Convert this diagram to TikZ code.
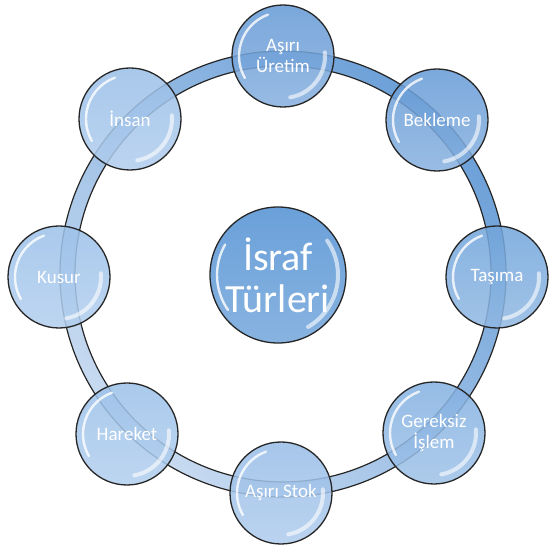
\documentclass[tikz,border=0pt]{standalone}
\usepackage{fontspec}
\setmainfont{Carlito}
\begin{document}
\begin{tikzpicture}[x=1pt,y=1pt,
  bub/.style={circle, draw=black!85, line width=1.3pt, minimum size=102pt, inner sep=0pt,
    fill opacity=0.86, draw opacity=1, text opacity=1, text=white, align=center,
    font=\fontsize{19}{21}\selectfont},
  glossa/.style={white, line width=2.4pt, opacity=0.8, line cap=round},
  glossb/.style={white, line width=4pt, opacity=0.6, line cap=round}
]
\useasboundingbox (0,0) rectangle (553,556);
\coordinate (rc) at (283,282);
% ring band
\shade[even odd rule, top color={rgb,255:red,108;green,160;blue,216}, bottom color={rgb,255:red,200;green,219;blue,241}, shading angle=-45]
  (rc) circle[radius=223pt] (rc) circle[radius=208pt];
\draw[black!85, line width=1.2pt] (rc) circle[radius=223pt];
\draw[black!85, line width=1.2pt] (rc) circle[radius=208pt];

\newcommand{\bubble}[4]{%
  \node[bub, top color=#3, bottom color=#3!78!white] (#1) at #2 {#4};
  \draw[glossa] ([shift={(110:44pt)}]#1.center) arc[start angle=110, end angle=210, radius=44pt];
  \draw[glossb] ([shift={(-80:42pt)}]#1.center) arc[start angle=-80, end angle=5, radius=42pt];
}
\definecolor{cA}{RGB}{100,153,213}
\definecolor{cB}{RGB}{102,155,214}
\definecolor{cC}{RGB}{114,165,219}
\definecolor{cD}{RGB}{132,177,225}
\definecolor{cE}{RGB}{152,189,231}
\definecolor{cF}{RGB}{156,193,233}
\definecolor{cG}{RGB}{156,193,233}
\definecolor{cH}{RGB}{154,191,232}
\definecolor{cM}{RGB}{106,160,217}

\bubble{uretim}{(283,500)}{cA}{Aşırı\\Üretim}
\bubble{bekleme}{(437,436)}{cB}{Bekleme}
\bubble{tasima}{(497,279)}{cC}{Taşıma}
\bubble{gereksiz}{(434,123)}{cD}{Gereksiz\\İşlem}
\bubble{stok}{(281,63)}{cE}{Aşırı Stok}
\bubble{hareket}{(127,122)}{cF}{Hareket}
\bubble{kusur}{(59,279)}{cG}{Kusur}
\bubble{insan}{(130,437)}{cH}{İnsan}

% center
\node[bub, minimum size=136pt, top color=cM, bottom color=cM!80!white, fill opacity=1,
  font=\fontsize{40}{42}\selectfont] (merkez) at (278,281) {İsraf\\Türleri};
\draw[glossb] ([shift={(-60:60pt)}]merkez.center) arc[start angle=-60, end angle=35, radius=60pt];
\draw[glossa] ([shift={(150:61pt)}]merkez.center) arc[start angle=150, end angle=215, radius=61pt];
\end{tikzpicture}
\end{document}
